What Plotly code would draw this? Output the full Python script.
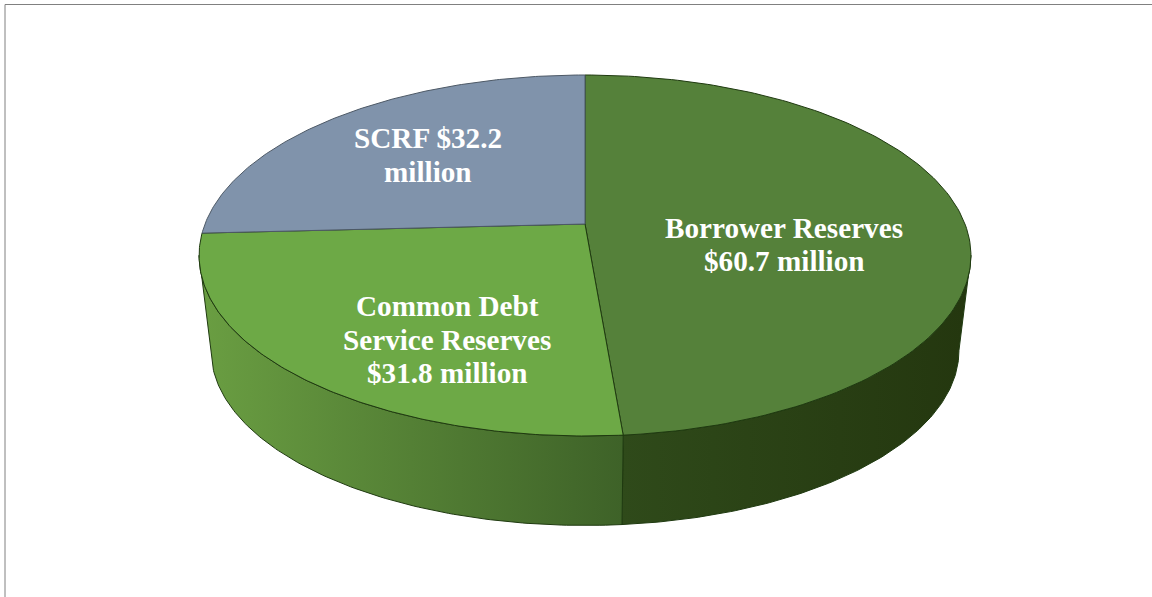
import numpy as np
import plotly.graph_objects as go

# ---- data ----
slice_names = ["Borrower Reserves", "Common Debt Service Reserves", "SCRF"]
slice_values = [60.7, 31.8, 32.2]
label_lines = [["Borrower Reserves", "$60.7 million"],
               ["Common Debt", "Service Reserves", "$31.8 million"],
               ["SCRF $32.2", "million"]]

# ---- styling / geometry of the perspective drawing ----
top_colors = ["#55813A", "#6DA946", "#8093AB"]
edge_colors = ["#1F3A10", "#1F3A10", "#4D5966"]
CX, CY, RX, RY, K = 585.0, 224.0, 380.0, 175.0, 0.1745
BOTTOM_SCALE, BOTTOM_CY = 0.969, 320.0
label_anchor = [(784, 228), (447, 306), (428, 138)]
LINE_GAP = [33, 33.5, 34]


def project(theta_deg, bottom=False):
    t = np.radians(theta_deg)
    x, y = np.sin(t), -np.cos(t)
    w = 1 - K * y
    sx, sy = RX * x / w, RY * y / w
    if bottom:
        return CX + BOTTOM_SCALE * sx, BOTTOM_CY + BOTTOM_SCALE * sy
    return CX + sx, CY + sy


total = sum(slice_values)
edges = np.concatenate([[0], np.cumsum(slice_values) / total * 360])

fig = go.Figure()


def wall(t0, t1, c0, c1, x0, x1):
    th = np.linspace(t0, t1, 120)
    xt, yt = project(th)
    xb, yb = project(th[::-1], bottom=True)
    fig.add_trace(go.Scatter(
        x=np.r_[xt, xb, xt[0]], y=np.r_[yt, yb, yt[0]],
        mode="lines", fill="toself", hoverinfo="skip",
        line=dict(color="#1F3A10", width=1),
        fillgradient=dict(type="horizontal", start=x0, stop=x1,
                          colorscale=[[0, c0], [1, c1]]),
    ))


# visible side walls: silhouette tangents are at sin(theta) related to K
wall(100, edges[1], "#2F4A1A", "#24370F", 622, 965)
wall(edges[1], 260, "#3E6228", "#6A9E42", 622, 200)

for i in range(3):
    th = np.linspace(edges[i], edges[i + 1], 160)
    ax, ay = project(th)
    fig.add_trace(go.Scatter(
        x=np.r_[CX, ax, CX], y=np.r_[CY, ay, CY],
        mode="lines", fill="toself", fillcolor=top_colors[i],
        line=dict(color=edge_colors[i], width=1), hoverinfo="skip",
    ))

annotations = []
for lines, (ax, ay), gap in zip(label_lines, label_anchor, LINE_GAP):
    for j, txt in enumerate(lines):
        annotations.append(dict(
            x=ax, y=ay + j * gap, text=txt, showarrow=False,
            xanchor="center", yanchor="middle",
            font=dict(family="Liberation Serif", size=29.2, color="white", weight="bold"),
        ))

fig.update_layout(
    width=1152, height=597, margin=dict(l=0, r=0, t=0, b=0),
    paper_bgcolor="white", plot_bgcolor="white", showlegend=False,
    xaxis=dict(range=[0, 1152], visible=False, fixedrange=True),
    yaxis=dict(range=[597, 0], visible=False, fixedrange=True),
    annotations=annotations,
    shapes=[dict(type="line", x0=5, x1=1152, y0=4.5, y1=4.5, line=dict(color="#808080", width=1)),
            dict(type="line", x0=5, x1=5, y0=4.5, y1=597, line=dict(color="#808080", width=1))],
)
fig.write_html("out.html", config={"displayModeBar": False},
               post_script="document.body.style.margin='0';document.documentElement.style.overflow='hidden';")
